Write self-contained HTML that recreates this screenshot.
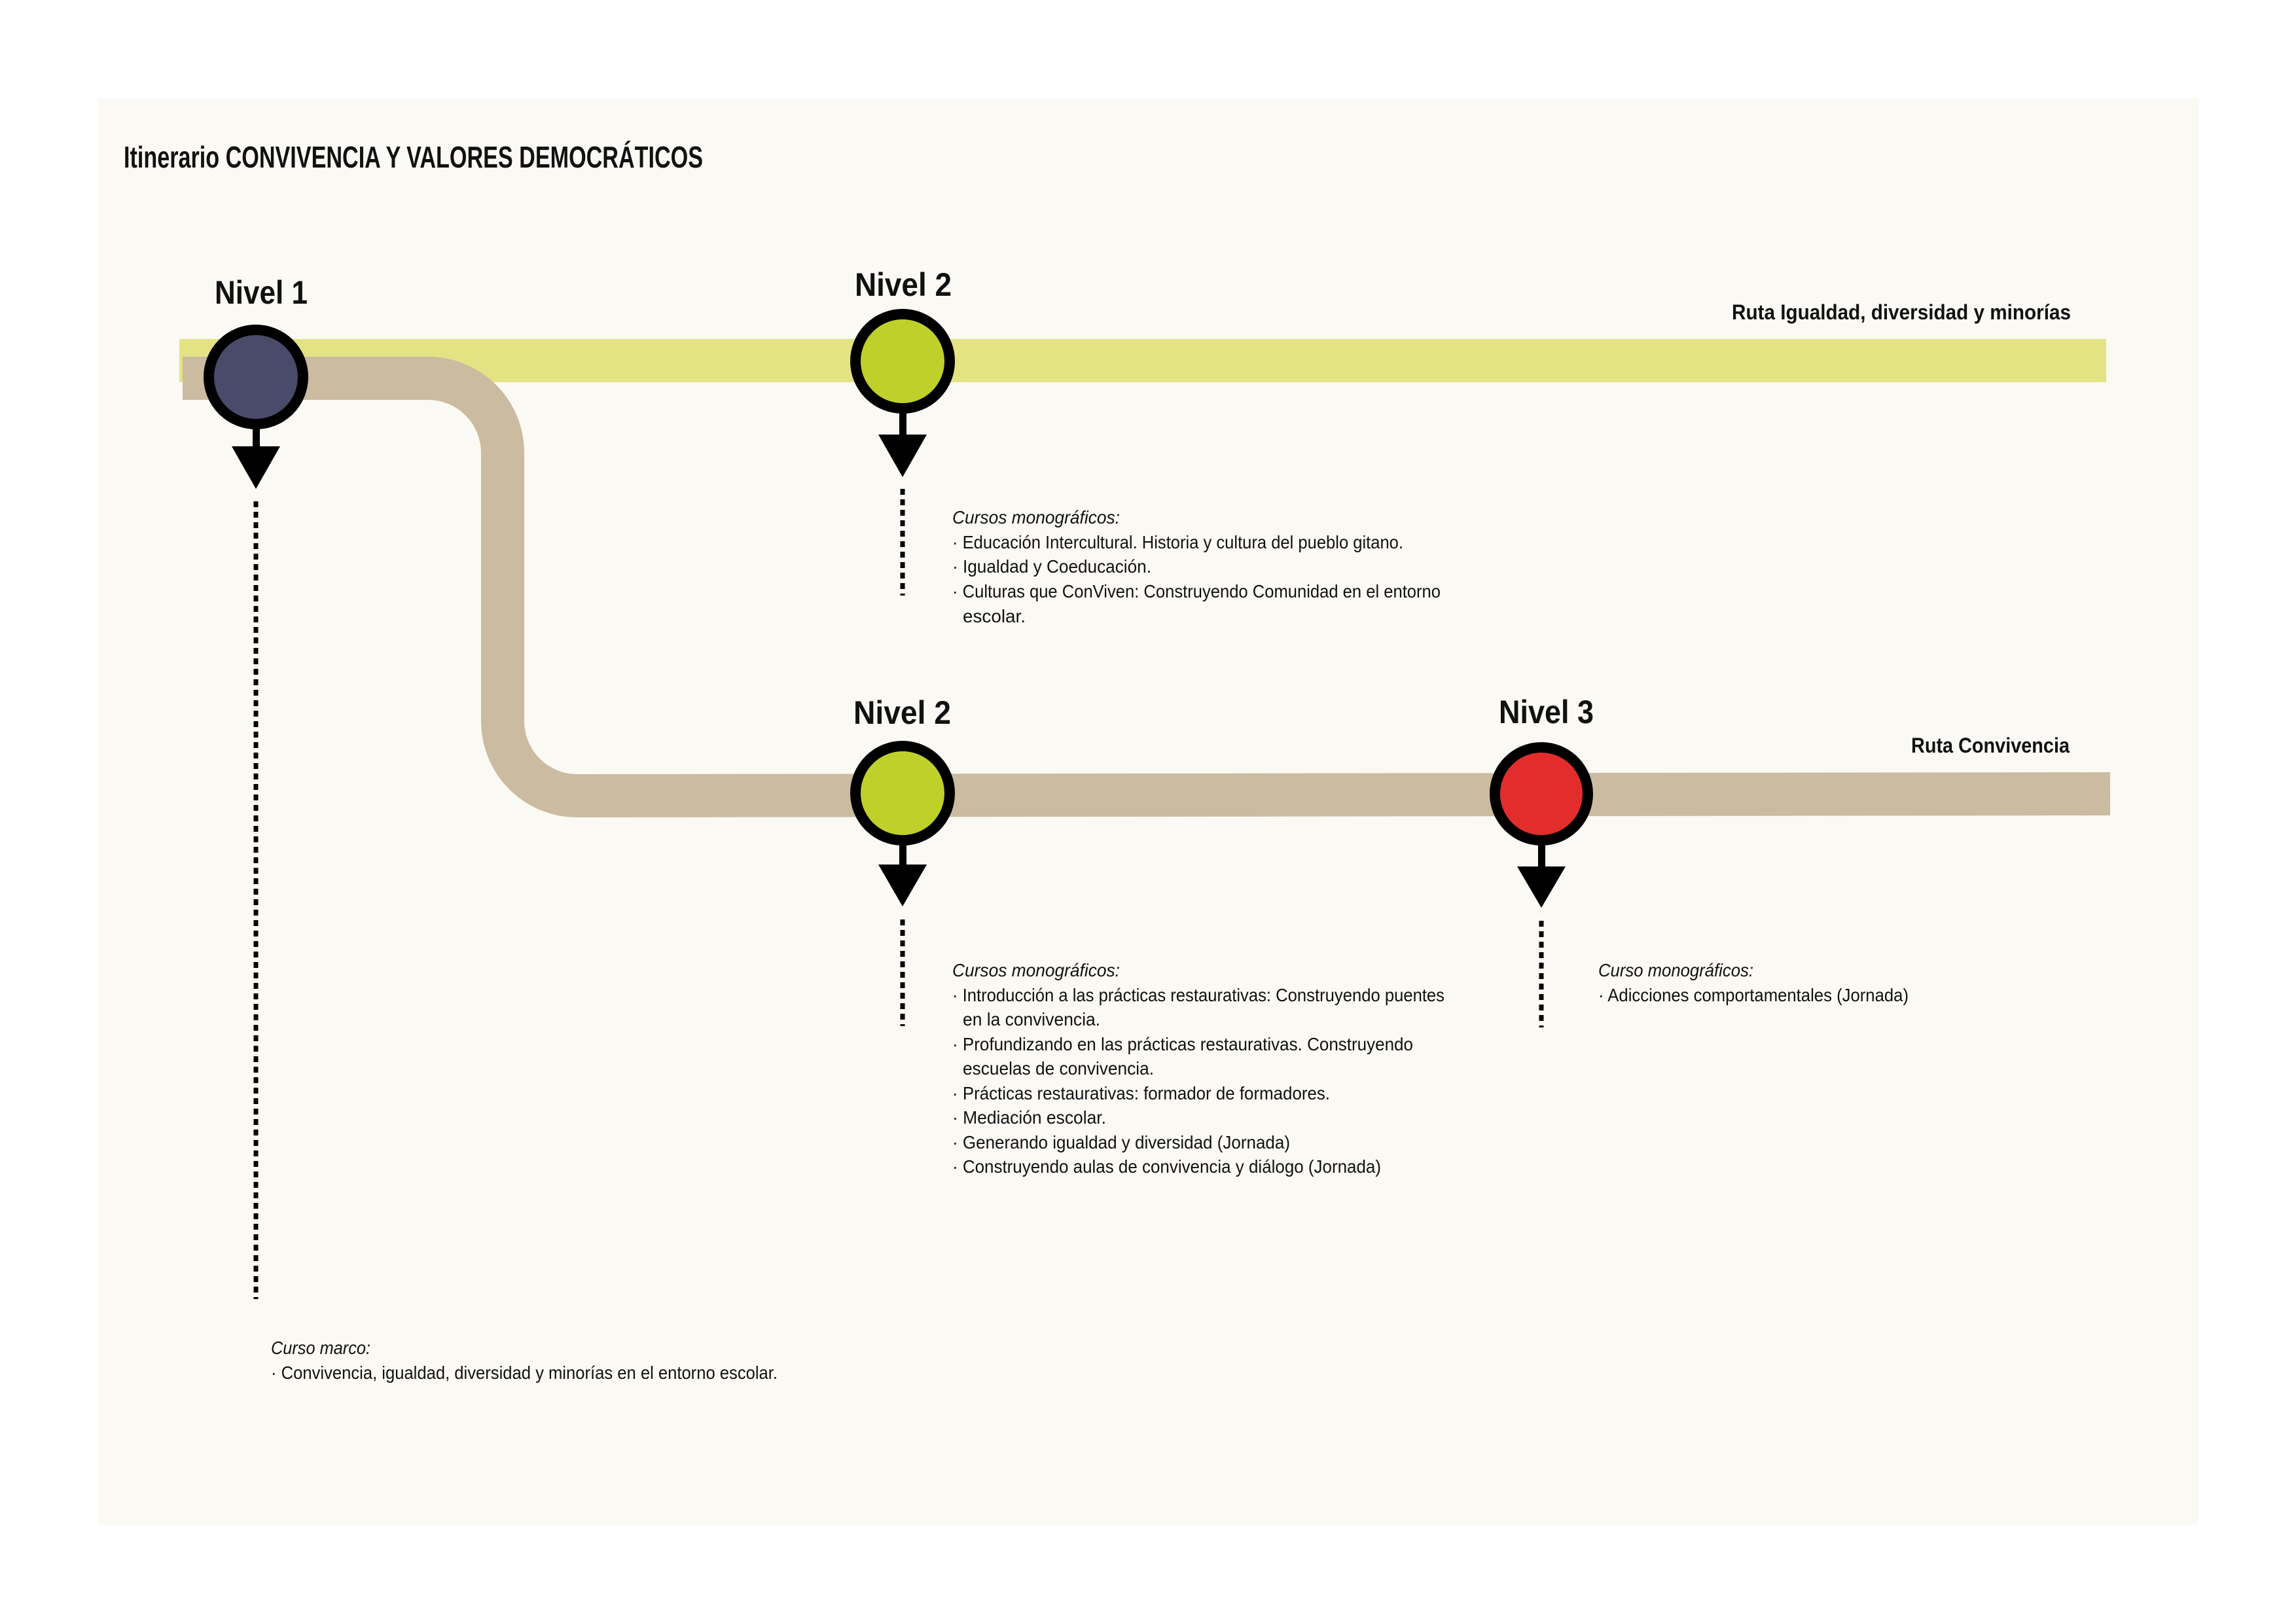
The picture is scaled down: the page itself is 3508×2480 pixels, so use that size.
<!DOCTYPE html>
<html><head><meta charset="utf-8"><style>
html,body{margin:0;padding:0;background:#fff;}
svg{display:block;}
text{font-family:"Liberation Sans Narrow","Liberation Sans",sans-serif;fill:#111;}
.b{font-weight:bold;}
.i{font-style:italic;}
</style></head><body>
<svg width="3508" height="2480" viewBox="0 0 3508 2480" xmlns="http://www.w3.org/2000/svg">
<rect x="0" y="0" width="3508" height="2480" fill="#ffffff"/>
<rect x="150" y="150" width="3209" height="2180" fill="#fbf9f4"/>
<text x="189" y="256" font-size="46" class="b" textLength="885" lengthAdjust="spacingAndGlyphs">Itinerario CONVIVENCIA Y VALORES DEMOCRÁTICOS</text>

<rect x="274" y="518" width="2944" height="66" fill="#e4e384"/>
<path d="M279 578 L654 578 A114 114 0 0 1 768 692 L768 1102 A114 114 0 0 0 882 1216 L3224 1213" fill="none" stroke="#cbbba0" stroke-width="66"/>

<text x="2646" y="488" font-size="32" class="b" textLength="518" lengthAdjust="spacingAndGlyphs">Ruta Igualdad, diversidad y minorías</text>
<text x="2920" y="1150" font-size="32" class="b" textLength="242" lengthAdjust="spacingAndGlyphs">Ruta Convivencia</text>

<text x="328" y="464" font-size="50" class="b" textLength="142" lengthAdjust="spacingAndGlyphs">Nivel 1</text>
<text x="1306" y="452" font-size="50" class="b" textLength="148" lengthAdjust="spacingAndGlyphs">Nivel 2</text>
<text x="1304" y="1106" font-size="50" class="b" textLength="149" lengthAdjust="spacingAndGlyphs">Nivel 2</text>
<text x="2290" y="1105" font-size="50" class="b" textLength="145" lengthAdjust="spacingAndGlyphs">Nivel 3</text>

<g fill="#000" stroke="none">
<rect x="386" y="640" width="11" height="45"/><polygon points="354,682 428,682 391,747"/>
<rect x="1374" y="620" width="11" height="47"/><polygon points="1342,664 1416,664 1379,729"/>
<rect x="1374" y="1280" width="11" height="44"/><polygon points="1342,1321 1416,1321 1379,1385"/>
<rect x="2350" y="1280" width="11" height="47"/><polygon points="2318,1324 2392,1324 2355,1387"/>
</g>
<circle cx="391" cy="576" r="72" fill="#4a4a6a" stroke="#000" stroke-width="16"/>
<circle cx="1379" cy="552" r="72" fill="#c0d02a" stroke="#000" stroke-width="16"/>
<circle cx="1379" cy="1212" r="72" fill="#c0d02a" stroke="#000" stroke-width="16"/>
<circle cx="2355" cy="1213" r="71" fill="#e32d2d" stroke="#000" stroke-width="16"/>

<g stroke="#000" stroke-width="7" stroke-dasharray="9 7" fill="none">
<line x1="391" y1="766" x2="391" y2="1985"/>
<line x1="1379" y1="747" x2="1379" y2="910"/>
<line x1="1379" y1="1405" x2="1379" y2="1568"/>
<line x1="2355" y1="1407" x2="2355" y2="1570"/>
</g>

<g font-size="28">
<text x="1455" y="800" class="i" textLength="256" lengthAdjust="spacingAndGlyphs">Cursos monográficos:</text>
<text x="1455" y="838" textLength="689" lengthAdjust="spacingAndGlyphs">· Educación Intercultural. Historia y cultura del pueblo gitano.</text>
<text x="1455" y="875" textLength="304" lengthAdjust="spacingAndGlyphs">· Igualdad y Coeducación.</text>
<text x="1455" y="913" textLength="746" lengthAdjust="spacingAndGlyphs">· Culturas que ConViven: Construyendo Comunidad en el entorno</text>
<text x="1471" y="951" textLength="96" lengthAdjust="spacingAndGlyphs">escolar.</text>

<text x="1455" y="1492" class="i" textLength="256" lengthAdjust="spacingAndGlyphs">Cursos monográficos:</text>
<text x="1455" y="1530" textLength="752" lengthAdjust="spacingAndGlyphs">· Introducción a las prácticas restaurativas: Construyendo puentes</text>
<text x="1471" y="1567" textLength="210" lengthAdjust="spacingAndGlyphs">en la convivencia.</text>
<text x="1455" y="1605" textLength="704" lengthAdjust="spacingAndGlyphs">· Profundizando en las prácticas restaurativas. Construyendo</text>
<text x="1471" y="1642" textLength="292" lengthAdjust="spacingAndGlyphs">escuelas de convivencia.</text>
<text x="1455" y="1680" textLength="577" lengthAdjust="spacingAndGlyphs">· Prácticas restaurativas: formador de formadores.</text>
<text x="1455" y="1717" textLength="235" lengthAdjust="spacingAndGlyphs">· Mediación escolar.</text>
<text x="1455" y="1755" textLength="516" lengthAdjust="spacingAndGlyphs">· Generando igualdad y diversidad (Jornada)</text>
<text x="1455" y="1792" textLength="655" lengthAdjust="spacingAndGlyphs">· Construyendo aulas de convivencia y diálogo (Jornada)</text>

<text x="2442" y="1492" class="i" textLength="237" lengthAdjust="spacingAndGlyphs">Curso monográficos:</text>
<text x="2442" y="1530" textLength="474" lengthAdjust="spacingAndGlyphs">· Adicciones comportamentales (Jornada)</text>

<text x="414" y="2069" class="i" textLength="152" lengthAdjust="spacingAndGlyphs">Curso marco:</text>
<text x="414" y="2107" textLength="774" lengthAdjust="spacingAndGlyphs">· Convivencia, igualdad, diversidad y minorías en el entorno escolar.</text>
</g>
</svg>
</body></html>
